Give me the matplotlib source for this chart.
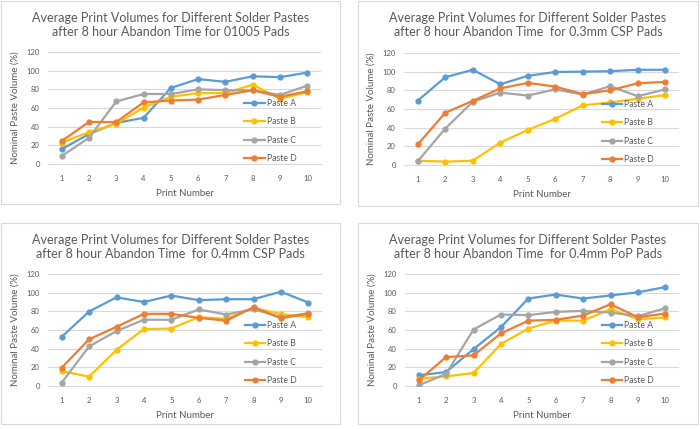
import matplotlib
matplotlib.use('Agg')
import matplotlib.pyplot as plt
from matplotlib.patches import Rectangle

plt.rcParams['font.family'] = ['Lato', 'DejaVu Sans']

W, H = 700, 429

prints = [1, 2, 3, 4, 5, 6, 7, 8, 9, 10]
pastes = ['Paste A', 'Paste B', 'Paste C', 'Paste D']
colors = ['#5B9BD5', '#FFC000', '#A5A5A5', '#ED7D31']

titles = [
    'Average Print Volumes for Different Solder Pastes\nafter 8 hour Abandon Time for 01005 Pads',
    'Average Print Volumes for Different Solder Pastes\nafter 8 hour Abandon Time  for 0.3mm CSP Pads',
    'Average Print Volumes for Different Solder Pastes\nafter 8 hour Abandon Time  for 0.4mm CSP Pads',
    'Average Print Volumes for Different Solder Pastes\nafter 8 hour Abandon Time  for 0.4mm PoP Pads',
]

# 01005 pads
pads_01005_a = [16, 32, 44, 49.5, 81.5, 91, 88, 94, 93, 98]
pads_01005_b = [23, 34, 43, 60.5, 72, 76, 76, 85, 70, 77]
pads_01005_c = [8.5, 28, 67, 75, 75, 80, 79, 79, 74, 84]
pads_01005_d = [24.6, 45, 45, 66, 68, 69, 74, 79, 72, 78]

# 0.3mm CSP pads
csp03_a = [69, 94, 102, 86.5, 95.5, 99.7, 100, 100.5, 102, 102]
csp03_b = [4.6, 3.6, 4.6, 24, 37.5, 49.5, 64, 67, 71, 75]
csp03_c = [4, 39, 67.7, 77.6, 74.4, 81, 75.5, 84.4, 73.7, 81]
csp03_d = [22, 56, 68.7, 82, 88, 84, 76, 80, 87.6, 89]

# 0.4mm CSP pads
csp04_a = [52.7, 79.8, 95, 90, 96.9, 92, 93, 93, 101, 89.4]
csp04_b = [16, 10, 38.8, 61, 61.6, 73.7, 72, 83.7, 77, 73.7]
csp04_c = [3.6, 42.4, 58.8, 71, 70.9, 82, 76.6, 82.3, 73.7, 78]
csp04_d = [19.6, 50, 63.4, 77.3, 77.3, 73, 70, 84.4, 72.6, 77.3]

# 0.4mm PoP pads
pop04_a = [11.4, 15, 39.5, 63, 93.7, 98, 93.7, 97, 100.4, 106]
pop04_b = [7.8, 10.3, 13.9, 44.9, 61.6, 70, 70, 82.3, 71.6, 73.4]
pop04_c = [0.7, 13, 60.5, 76.6, 75.9, 79.4, 80.5, 78.7, 74.8, 83.3]
pop04_d = [6, 31, 32.8, 56.3, 70, 70.9, 75.5, 87.6, 73.7, 77.6]

panel_data = [
    [pads_01005_a, pads_01005_b, pads_01005_c, pads_01005_d],
    [csp03_a, csp03_b, csp03_c, csp03_d],
    [csp04_a, csp04_b, csp04_c, csp04_d],
    [pop04_a, pop04_b, pop04_c, pop04_d],
]

# pixel boxes (left, top, right, bottom) for chart border and plot area
boxes = [(1, 1, 340, 204), (358, 1, 698, 206), (1, 223, 340, 424), (358, 223, 698, 424)]
plots = [(48, 52, 321, 164), (404, 53, 679, 165), (48, 274, 322, 386), (405, 274, 679, 386)]

fig = plt.figure(figsize=(W / 100, H / 100), dpi=100)
fig.patch.set_facecolor('white')

bg = fig.add_axes([0, 0, 1, 1])
bg.set_xlim(0, W)
bg.set_ylim(H, 0)
bg.axis('off')

grey = '#595959'

for i in range(4):
    l, t, r, b = boxes[i]
    bg.add_patch(Rectangle((l, t), r - l, b - t, fill=False, edgecolor='#D9D9D9', lw=0.8))

    pl, pt, pr, pb = plots[i]
    ax = fig.add_axes([pl / W, 1 - pb / H, (pr - pl) / W, (pb - pt) / H])
    ax.set_facecolor('none')
    for name, vals, c in zip(pastes, panel_data[i], colors):
        ax.plot(prints, vals, color=c, lw=1.6, marker='o', markersize=3.5, label=name, zorder=3)
    ax.set_xlim(0.5, 10.5)
    ax.set_ylim(0, 120)
    ax.set_yticks(range(0, 121, 20))
    ax.set_xticks(prints)
    ax.grid(axis='y', color='#D9D9D9', lw=0.8)
    ax.set_axisbelow(True)
    for s in ['top', 'right', 'left']:
        ax.spines[s].set_visible(False)
    ax.spines['bottom'].set_color('#D9D9D9')
    ax.tick_params(axis='y', length=0, labelsize=5.5, colors=grey, pad=6)
    ax.tick_params(axis='x', length=0, labelsize=5.5, colors=grey, pad=8)
    ax.set_xlabel('Print Number', fontsize=7, color=grey, labelpad=5)
    ax.set_ylabel('Nominal Paste Volume (%)', fontsize=7, color=grey, labelpad=5)

    cx = (l + r) / 2
    bg.text(cx, t + 24, titles[i], ha='center', va='center', fontsize=9,
            color=grey, linespacing=1.3)

    ax.legend(loc='center left', bbox_to_anchor=(0.69, 0.295), frameon=False,
              fontsize=6.2, labelspacing=1.1, handlelength=2.4, handletextpad=0.2,
              labelcolor=grey)

fig.savefig('out.png', dpi=100, facecolor='white')
